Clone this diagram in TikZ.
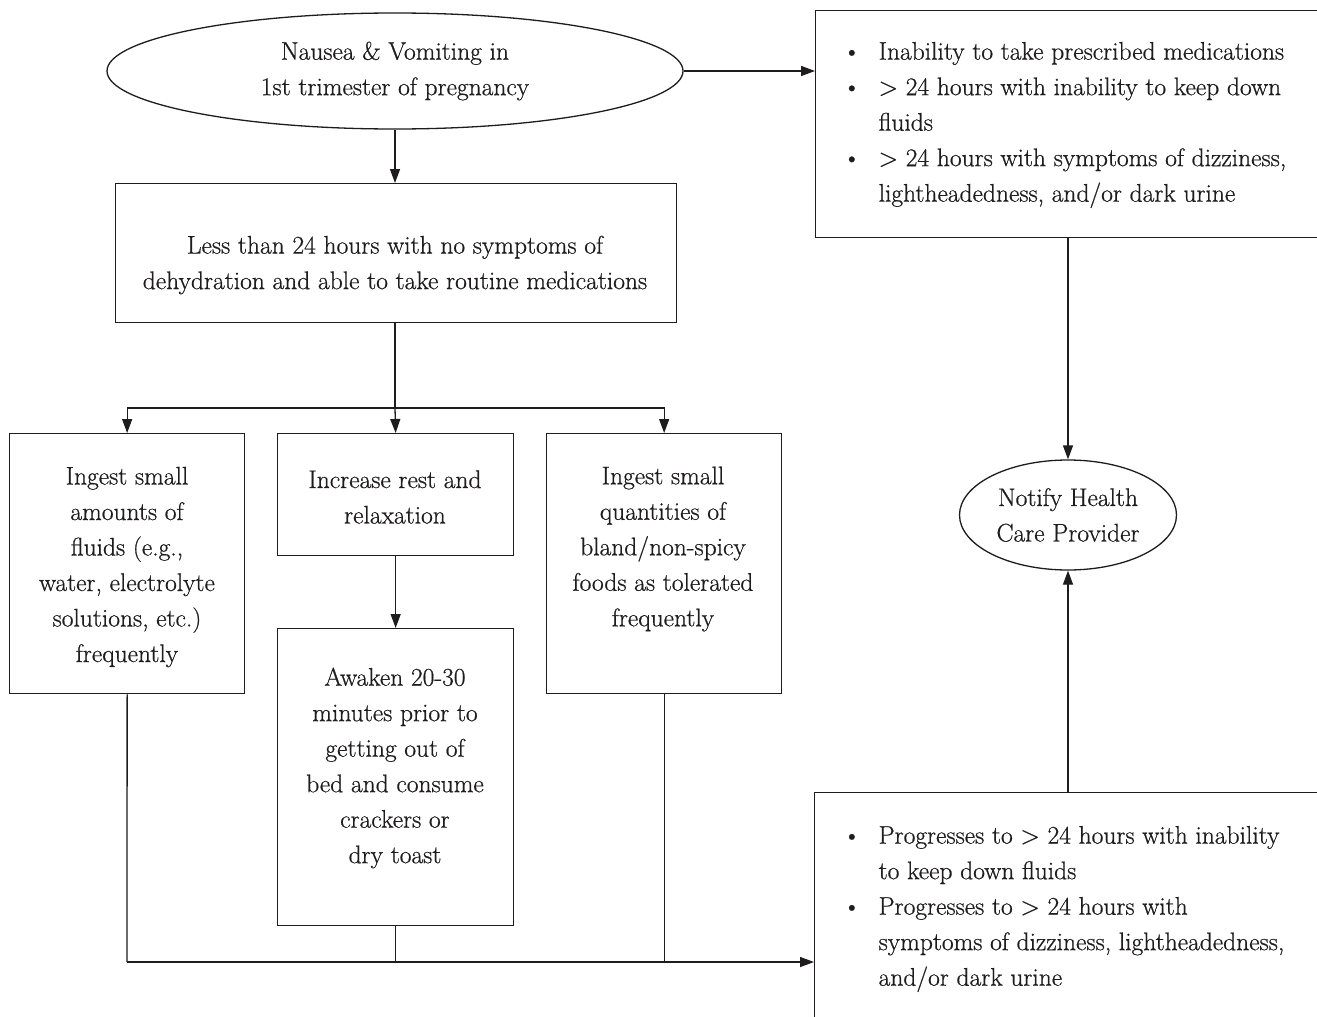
\documentclass[tikz,border=0pt]{standalone}
\usepackage{fontspec}
\setmainfont{Latin Modern Roman}[UprightFeatures={FakeBold=0.6}]
\usetikzlibrary{shapes.geometric,arrows.meta}
\definecolor{ink}{HTML}{1E1C1D}
\newcommand{\bull}{\makebox[36pt][l]{\textbullet}}
\newcommand{\hang}{\hspace*{36pt}}
\begin{document}
\begin{tikzpicture}[x=1pt,y=-1pt,color=ink,line width=1.3pt,
  frame/.style={draw,rectangle,inner sep=0pt,anchor=north west},
  oval/.style={draw,ellipse,inner sep=0pt},
  txt/.style={align=center,inner sep=0pt,font=\fontsize{25.5}{35.5}\selectfont},
  btxt/.style={align=left,inner sep=0pt,anchor=west,font=\fontsize{25.5}{35.5}\selectfont},
  arr/.style={-{Triangle[length=14pt,width=10pt]}}]
\useasboundingbox (0,0) rectangle (1317,1017);
\clip (0,0) rectangle (1317,1017);
\fill[white] (0,0) rectangle (1317,1017);
% shapes
\node[oval,minimum width=576pt,minimum height=116pt] (start) at (395,71) {};
\node[txt] (startT) at (395,71) {Nausea \& Vomiting in\\1st trimester of pregnancy};
\node[frame,minimum width=561pt,minimum height=139pt] (less) at (115,183) {};
\node[txt] (lessT) at (395,265) {Less than 24 hours with no symptoms of\\dehydration and able to take routine medications};
\node[frame,minimum width=235pt,minimum height=260pt] (fluid) at (9,433) {};
\node[txt] (fluidT) at (127,567) {Ingest small\\amounts of\\fluids (e.g.,\\water, electrolyte\\solutions, etc.)\\frequently};
\node[frame,minimum width=236pt,minimum height=122pt] (rest) at (277,433) {};
\node[txt] (restT) at (395,497) {Increase rest and\\relaxation};
\node[frame,minimum width=236pt,minimum height=297pt] (wake) at (277,628) {};
\node[txt] (wakeT) at (395,768) {Awaken 20-30\\minutes prior to\\getting out of\\bed and consume\\crackers or\\dry toast};
\node[frame,minimum width=235pt,minimum height=260pt] (food) at (546,433) {};
\node[txt] (foodT) at (663,549) {Ingest small\\quantities of\\bland/non-spicy\\foods as tolerated\\frequently};
\node[frame,minimum width=560pt,minimum height=227pt] (warn) at (815,10) {};
\node[btxt] (warnT) at (842,125) {\bull Inability to take prescribed medications\\\bull > 24 hours with inability to keep down\\\hang fluids\\\bull > 24 hours with symptoms of dizziness,\\\hang lightheadedness, and/or dark urine};
\node[frame,minimum width=560pt,minimum height=260pt] (prog) at (814,792) {};
\node[btxt] (progT) at (842,909) {\bull Progresses to > 24 hours with inability\\\hang to keep down fluids\\\bull Progresses to > 24 hours with\\\hang symptoms of dizziness, lightheadedness,\\\hang and/or dark urine};
\node[oval,minimum width=217pt,minimum height=110pt] (notify) at (1068,515) {};
\node[txt] (notifyT) at (1068,515) {Notify Health\\Care Provider};
% connectors
\coordinate (split) at (395,408);
\coordinate (merge) at (127,962);
\draw[arr] (start.east) -- (start.east -| warn.west);
\draw[arr] (start.south) -- (less.north -| start.south);
\draw (less.south -| split) -- (split);
\draw[arr] (split) -| (fluid.north);
\draw[arr] (split) -| (food.north);
\draw[arr] (split) -- (rest.north);
\draw[arr] (rest.south) -- (wake.north);
\draw (fluid.south) -- (merge);
\draw (wake.south) -- (wake.south |- merge);
\draw (food.south) -- (food.south |- merge);
\draw[arr] (merge) -- (merge -| prog.west);
\draw[arr] (notify.north |- warn.south) -- (notify.north);
\draw[arr] (notify.south |- prog.north) -- (notify.south);
\end{tikzpicture}
\end{document}
